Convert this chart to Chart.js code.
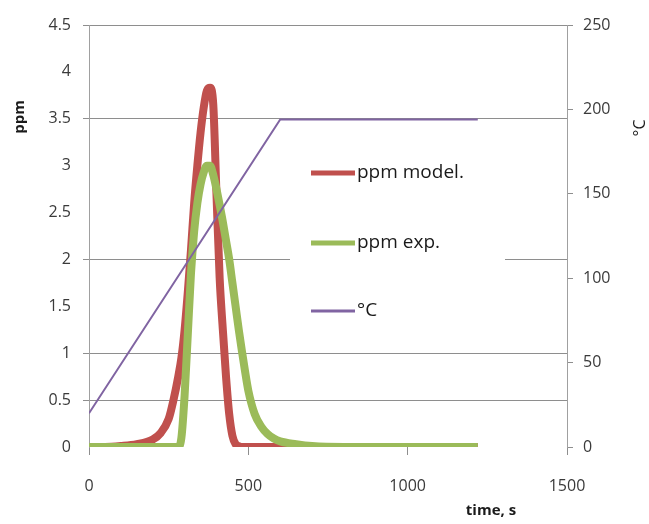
<!DOCTYPE html>
<html>
<head>
<meta charset="utf-8">
<script src="https://cdn.jsdelivr.net/npm/chart.js@4.4.0/dist/chart.umd.min.js"></script>
<style>
  html, body { margin: 0; padding: 0; background: #fff; }
  #wrap { width: 649px; height: 524px; }
</style>
</head>
<body>
<div id="wrap"><canvas id="grafico"></canvas></div>
<script>
// time axis (s) shared by both ppm series
var timeS = [0, 50, 100, 150, 200, 225, 250, 265, 280, 290, 300, 310, 320, 330, 340, 350, 360, 370, 380, 390,
  400, 410, 420, 430, 440, 450, 460, 470, 480, 490, 500, 520, 540, 560, 580, 600, 650, 700, 800, 900, 1000, 1100, 1220];
var ppmModel = [0, 0, 0.01, 0.03, 0.08, 0.15, 0.3, 0.5, 0.75, 0.95, 1.25, 1.65, 2.1, 2.6, 3.0, 3.35, 3.62, 3.8, 3.83, 3.65,
  2.7, 1.8, 1.25, 0.75, 0.35, 0.12, 0.03, 0.01, 0, 0, 0, 0, 0, 0, 0, 0, 0, 0, 0, 0, 0, 0, 0];
var ppmExp = [0, 0, 0, 0, 0, 0, 0, 0, 0, 0.1, 0.55, 1.2, 1.85, 2.3, 2.6, 2.8, 2.93, 3.0, 3.0, 2.9,
  2.75, 2.58, 2.4, 2.2, 2.0, 1.75, 1.5, 1.25, 1.02, 0.8, 0.6, 0.35, 0.22, 0.14, 0.09, 0.06, 0.03, 0.01, 0, 0, 0, 0, 0];
// temperature ramp
var tempTime = [0, 600, 1220];
var tempC = [20, 194, 194];

var seriesNames = ['ppm model.', 'ppm exp.', '°C'];
var seriesColors = ['#c0504d', '#9bbb59', '#8064a2'];
var ppmGridValues = [0.5, 1, 2, 3.5, 4.5];

function toPoints(xs, ys) {
  var pts = [];
  for (var i = 0; i < xs.length; i++) pts.push({x: xs[i], y: ys[i]});
  return pts;
}

function plain(v) { return String(v); }

var tickFont = {family: 'Open Sans', size: 16};
var gridGray = '#8e8e8e';

// legend box + axis titles drawn by hand
var extras = {
  id: 'extras',
  beforeDatasetsDraw: function(chart) {
    var ctx = chart.ctx;
    ctx.save();
    ctx.fillStyle = '#fff';
    ctx.fillRect(290, 135, 215, 200);
    var rows = [173, 243, 311];
    ctx.font = '19px "Open Sans"';
    ctx.textBaseline = 'middle';
    for (var i = 0; i < 3; i++) {
      ctx.strokeStyle = seriesColors[i];
      ctx.lineWidth = i < 2 ? 5 : 3;
      ctx.beginPath();
      ctx.moveTo(311, rows[i]);
      ctx.lineTo(355, rows[i]);
      ctx.stroke();
      ctx.fillStyle = '#1a1a1a';
      ctx.fillText(seriesNames[i], 357, rows[i]);
    }
    ctx.restore();
  },
  afterDraw: function(chart) {
    var ctx = chart.ctx;
    ctx.save();
    ctx.fillStyle = '#1a1a1a';
    ctx.textAlign = 'center';
    ctx.textBaseline = 'middle';
    ctx.font = 'bold 15px "Open Sans"';
    ctx.fillText('time, s', 491, 511);
    ctx.translate(20, 117);
    ctx.rotate(-Math.PI / 2);
    ctx.fillText('ppm', 0, 0);
    ctx.restore();
    ctx.save();
    ctx.fillStyle = '#1a1a1a';
    ctx.textAlign = 'center';
    ctx.textBaseline = 'middle';
    ctx.font = '16px "Open Sans"';
    ctx.translate(640, 128);
    ctx.rotate(-Math.PI / 2);
    ctx.fillText('°C', 0, 0);
    ctx.restore();
  }
};

var ctx = document.getElementById('grafico').getContext('2d');
var chart = new Chart(ctx, {
  type: 'scatter',
  data: {
    datasets: [
      {
        label: seriesNames[2], data: toPoints(tempTime, tempC), yAxisID: 'y1',
        showLine: true, borderColor: seriesColors[2], borderWidth: 2, pointRadius: 0, tension: 0
      },
      {
        label: seriesNames[1], data: toPoints(timeS, ppmExp), yAxisID: 'y',
        showLine: true, borderColor: seriesColors[1], borderWidth: 8, pointRadius: 0,
        cubicInterpolationMode: 'monotone', borderCapStyle: 'butt', borderJoinStyle: 'round'
      },
      {
        label: seriesNames[0], data: toPoints(timeS, ppmModel), yAxisID: 'y',
        showLine: true, borderColor: seriesColors[0], borderWidth: 8, pointRadius: 0,
        cubicInterpolationMode: 'monotone', borderCapStyle: 'butt', borderJoinStyle: 'round'
      }
    ]
  },
  options: {
    responsive: true,
    maintainAspectRatio: false,
    animation: false,
    layout: {padding: {top: 25, left: 0, right: 0, bottom: 0}},
    plugins: {legend: {display: false}, tooltip: {enabled: false}},
    scales: {
      x: {
        type: 'linear', min: 0, max: 1500,
        ticks: {stepSize: 500, font: tickFont, color: '#3a3a3a', padding: 22, maxRotation: 0, callback: plain},
        grid: {drawOnChartArea: false, tickLength: 8, color: gridGray},
        border: {display: false},
        afterFit: function(s) { s.height = 77; }
      },
      y: {
        position: 'left', min: 0, max: 4.5,
        ticks: {stepSize: 0.5, font: tickFont, color: '#3a3a3a', padding: 12, callback: plain},
        grid: {
          tickLength: 6,
          color: function(c) { return ppmGridValues.indexOf(c.tick.value) >= 0 ? gridGray : 'rgba(0,0,0,0)'; }
        },
        border: {display: true, color: '#a0a0a0', width: 1},
        afterFit: function(s) { s.width = 89; }
      },
      y1: {
        position: 'right', min: 0, max: 250,
        ticks: {stepSize: 50, font: tickFont, color: '#3a3a3a', padding: 10, callback: plain},
        grid: {drawOnChartArea: false, tickLength: 6, color: gridGray},
        border: {display: true, color: '#a0a0a0', width: 1},
        afterFit: function(s) { s.width = 82; }
      }
    }
  },
  plugins: [extras]
});
</script>
</body>
</html>
